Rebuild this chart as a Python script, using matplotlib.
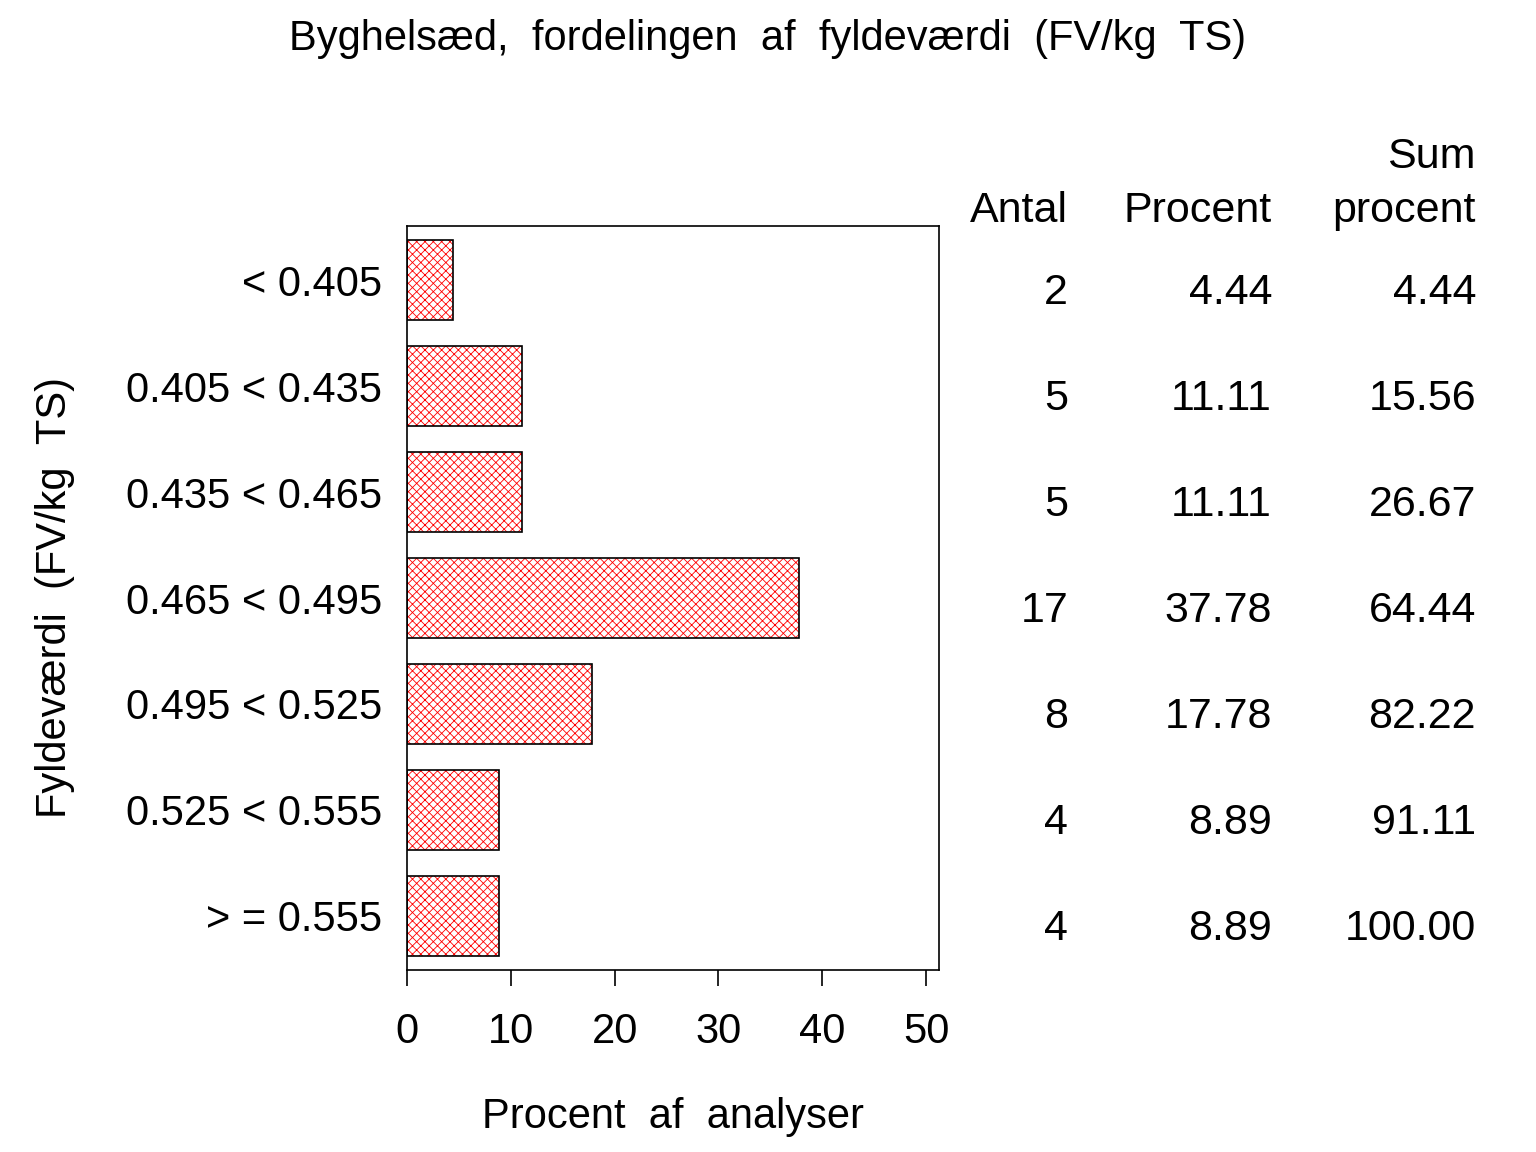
import matplotlib
matplotlib.use("Agg")
import matplotlib.pyplot as plt
import matplotlib.transforms as mtransforms

plt.rcParams['font.family'] = ['Liberation Sans', 'DejaVu Sans']
plt.rcParams['hatch.linewidth'] = 0.6

categories = ["< 0.405", "0.405 < 0.435", "0.435 < 0.465", "0.465 < 0.495",
              "0.495 < 0.525", "0.525 < 0.555", "> = 0.555"]
antal = [2, 5, 5, 17, 8, 4, 4]
procent = [4.44, 11.11, 11.11, 37.78, 17.78, 8.89, 8.89]
sum_procent = [4.44, 15.56, 26.67, 64.44, 82.22, 91.11, 100.00]
xticks = [0, 10, 20, 30, 40, 50]

W, H = 1536, 1152
FS = 30
fig = plt.figure(figsize=(W / 100, H / 100), dpi=100)
ax = fig.add_axes([407 / W, 1 - 970 / H, (939 - 407) / W, (970 - 226) / H])

ypos = list(range(len(categories)))
ax.barh(ypos, procent, height=0.755, left=0, color='none', edgecolor='red',
        hatch='xxxx', linewidth=0)
ax.barh(ypos, procent, height=0.755, left=0, color='none', edgecolor='black',
        linewidth=1.2)

ax.set_ylim(len(categories) - 0.5 + 0.01, -0.51)
ax.set_xlim(0, 51.25)
ax.set_yticks(ypos)
ax.set_yticklabels(categories, fontsize=FS)
ax.tick_params(axis='y', length=0, pad=18)
ax.set_xticks(xticks)
ax.set_xticklabels([str(t) for t in xticks], fontsize=FS)
ax.tick_params(axis='x', direction='out', length=11.5, width=1.2, pad=19)
for s in ax.spines.values():
    s.set_linewidth(1.2)

ax.set_xlabel("Procent  af  analyser", fontsize=FS, labelpad=32)
fig.text(55 / W, 1 - 597 / H, "Fyldeværdi  (FV/kg  TS)", rotation=90,
         fontsize=FS, ha='center', va='center')
fig.text(768 / W, 1 - 39 / H, "Byghelsæd,  fordelingen  af  fyldeværdi  (FV/kg  TS)",
         fontsize=FS, ha='center', va='center')

# table
TFS = 31
col_x = [1068, 1272, 1476]
fig.text(col_x[0] / W, 1 - 211 / H, "Antal", fontsize=TFS, ha='right', va='center')
fig.text(col_x[1] / W, 1 - 211 / H, "Procent", fontsize=TFS, ha='right', va='center')
fig.text(col_x[2] / W, 1 - 157 / H, "Sum", fontsize=TFS, ha='right', va='center')
fig.text(col_x[2] / W, 1 - 211 / H, "procent", fontsize=TFS, ha='right', va='center')

blend = mtransforms.blended_transform_factory(fig.transFigure, ax.transData)
off = mtransforms.ScaledTranslation(0, -13 / 100, fig.dpi_scale_trans)
tr = blend + off
for i in range(len(categories)):
    fig.text(col_x[0] / W, i, f"{antal[i]}", fontsize=TFS, ha='right', va='center', transform=tr)
    fig.text(col_x[1] / W, i, f"{procent[i]:.2f}", fontsize=TFS, ha='right', va='center', transform=tr)
    fig.text(col_x[2] / W, i, f"{sum_procent[i]:.2f}", fontsize=TFS, ha='right', va='center', transform=tr)

fig.savefig("out.png", dpi=100)
